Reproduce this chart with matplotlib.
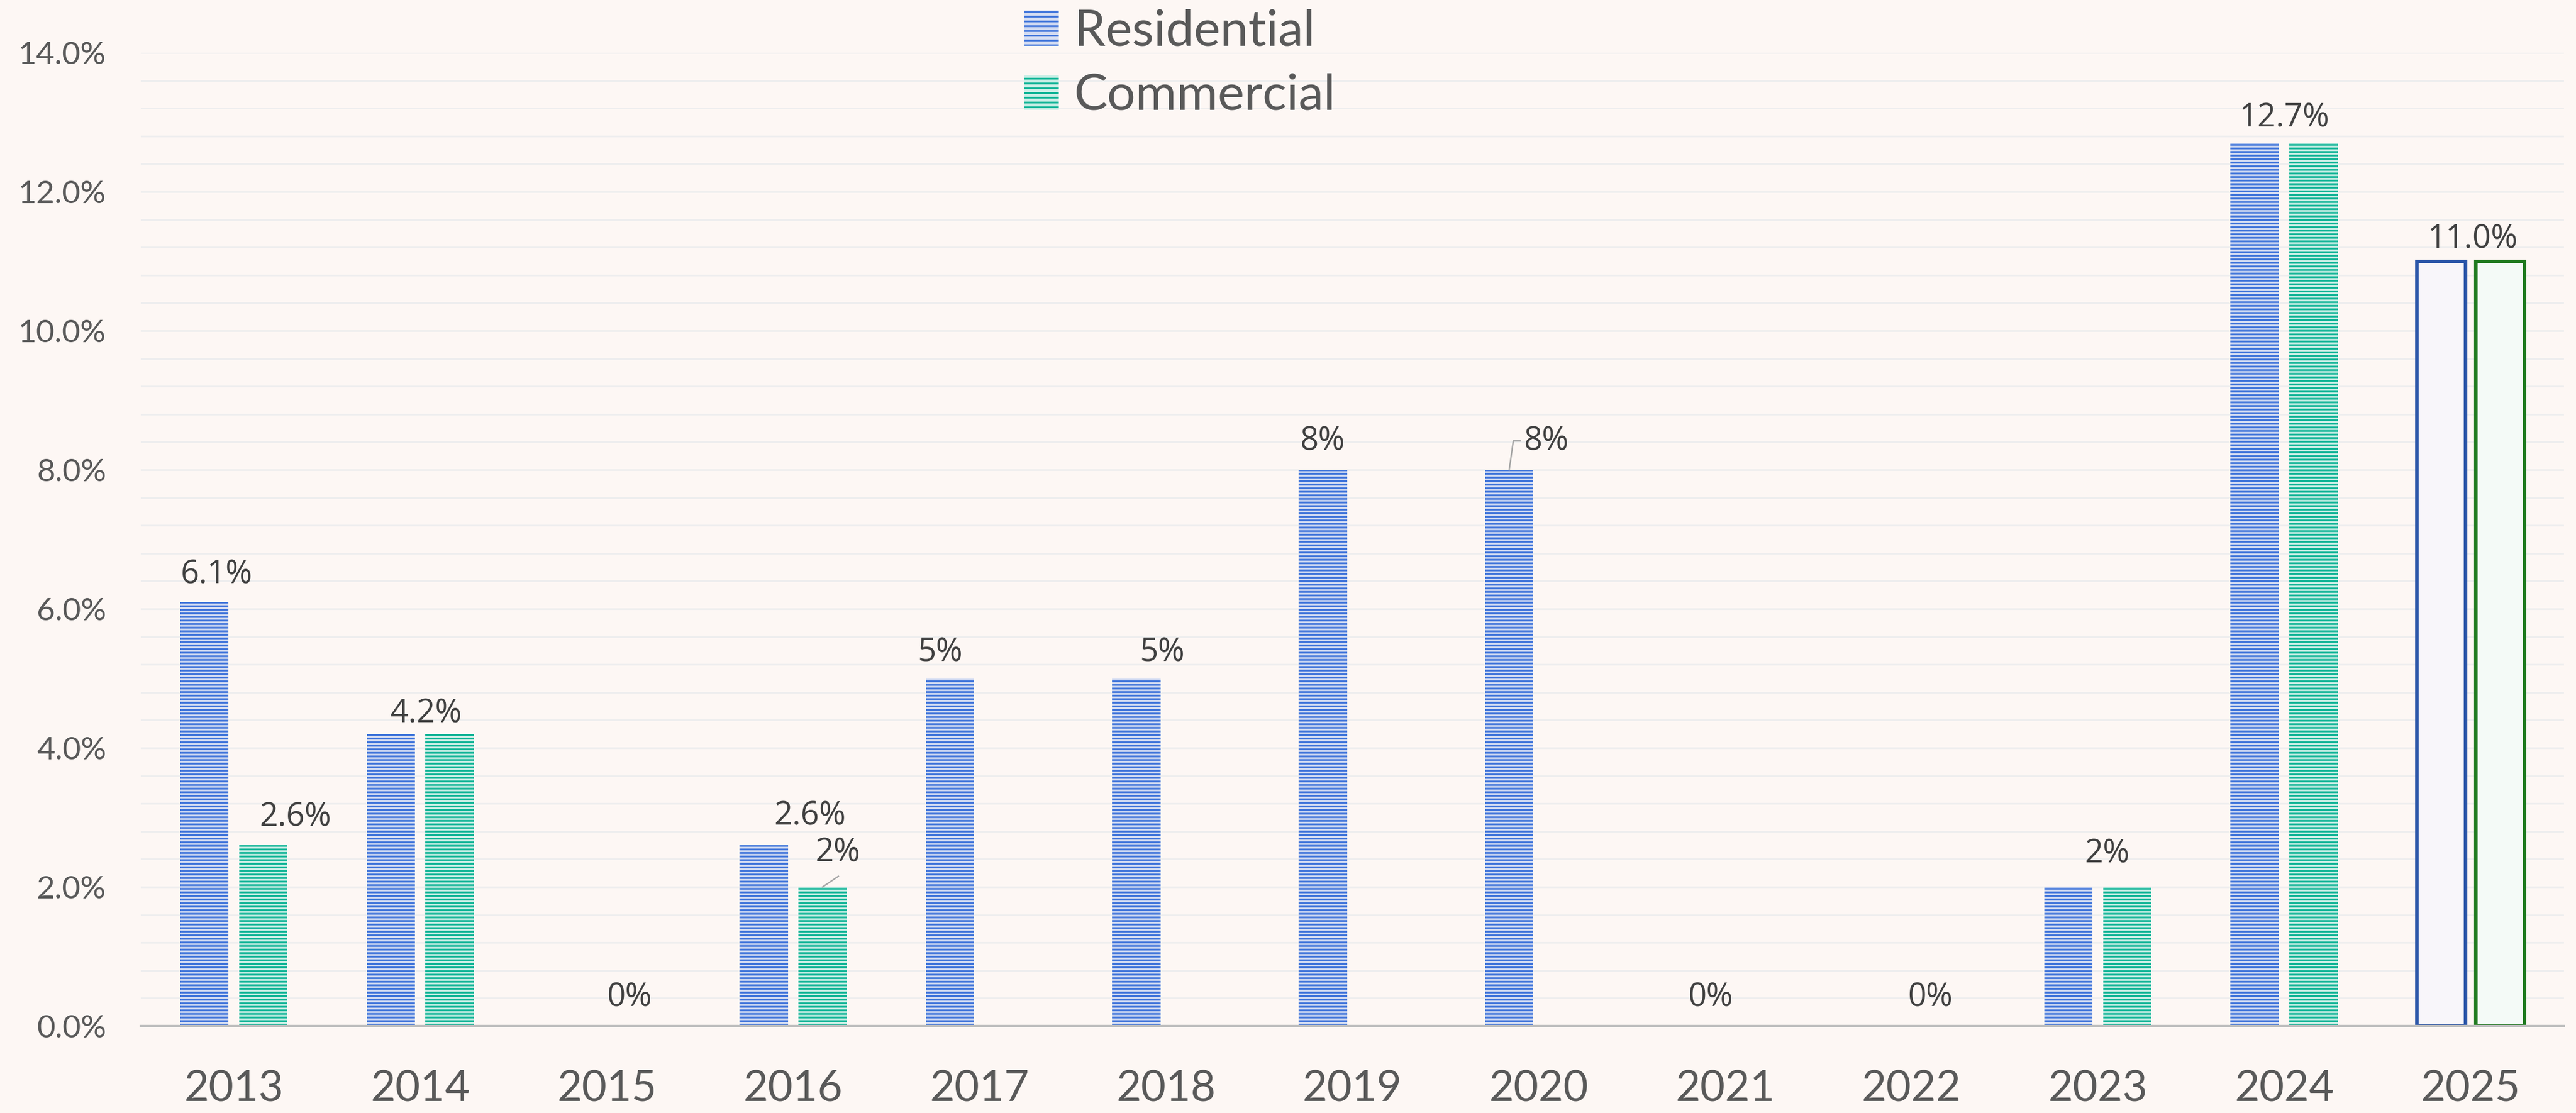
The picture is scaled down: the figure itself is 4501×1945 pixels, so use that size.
import matplotlib
matplotlib.use('Agg')
import matplotlib.pyplot as plt
import numpy as np
from matplotlib.patches import Patch

years = ['2013', '2014', '2015', '2016', '2017', '2018', '2019',
         '2020', '2021', '2022', '2023', '2024', '2025']
residential = [6.1, 4.2, 0, 2.6, 5, 5, 8, 8, 0, 0, 2, 12.7, 11.0]
commercial = [2.6, 4.2, 0, 2, 0, 0, 0, 0, 0, 0, 2, 12.7, 11.0]

# data labels as they appear on the chart
label_years = [0, 0, 1, 2, 3, 3, 4, 5, 6, 7, 8, 9, 10, 11, 12]
label_series = ['R', 'C', 'R', 'R', 'R', 'C', 'R', 'R', 'R', 'R', 'R', 'R', 'R', 'R', 'R']
label_texts = ['6.1%', '2.6%', '4.2%', '0%', '2.6%', '2%', '5%', '5%', '8%',
               '8%', '0%', '0%', '2%', '12.7%', '11.0%']

plt.rcParams['font.family'] = ['Lato', 'DejaVu Sans']
plt.rcParams['hatch.linewidth'] = 0.75

bg = '#FDF7F4'
blue_dark, blue_light = '#3F74DA', '#D3DCF2'
green_dark, green_light = '#10B496', '#CDEFE7'

fig = plt.figure(figsize=(4501/300, 1945/300), dpi=300, facecolor=bg)
ax = fig.add_axes([0.0546, 0.0781, 0.9407, 0.8746])
ax.set_facecolor(bg)

x = np.arange(len(years))
w = 0.26
off = 0.158
res = np.array(residential)
com = np.array(commercial)

# ordinary years: striped bars
ax.bar(x[:-1] - off, res[:-1], w, color=blue_light, edgecolor=blue_dark,
       hatch='--------', linewidth=0, zorder=3)
ax.bar(x[:-1] + off, com[:-1], w, color=green_light, edgecolor=green_dark,
       hatch='--------', linewidth=0, zorder=3)
# last year: outlined bars
ax.bar(x[-1] - off, res[-1], w, facecolor='#F8F6FA', edgecolor='#2A55A8',
       linewidth=1.5, zorder=3)
ax.bar(x[-1] + off, com[-1], w, facecolor='#F4FAF7', edgecolor='#1F7A1F',
       linewidth=1.5, zorder=3)

# label placement: (dx from category centre, dy above bar top)
label_offsets = [(-0.092, 0.39), (0.33, 0.40), (0.03, 0.29), (0.12, 0.40),
                 (0.09, 0.41), (0.24, 0.49), (-0.21, 0.37), (-0.02, 0.37),
                 (-0.16, 0.40), (0.04, 0.40), (-0.08, 0.40), (0.10, 0.40),
                 (0.05, 0.47), (0.0, 0.35), (0.01, 0.31)]
for yi, s, t, (dx, dy) in zip(label_years, label_series, label_texts, label_offsets):
    v = res[yi] if s == 'R' else com[yi]
    ax.text(x[yi] + dx, v + dy, t, ha='center', va='center', fontsize=13.5,
            color='#404040', family=['Open Sans', 'DejaVu Sans'], zorder=4)

# leader lines
lc = '#A6A6A6'
ax.plot([x[3] + off, x[3] + off + 0.085], [com[3], com[3] + 0.154],
        color=lc, lw=0.6, zorder=4)
ax.plot([x[7] - off, x[7] - off + 0.022, x[7] - off + 0.058],
        [res[7], res[7] + 0.417, res[7] + 0.417], color=lc, lw=0.6, zorder=4)

ax.set_xlim(-0.5, len(years) - 0.5)
ax.set_ylim(0, 14)
ax.set_xticks(x)
ax.set_xticklabels(years)
ax.set_yticks(np.arange(0, 14.01, 2))
ax.set_yticks(np.arange(0, 14.01, 0.4), minor=True)
ax.set_yticklabels([f'{v:.1f}%' for v in np.arange(0, 14.01, 2)])
ax.tick_params(axis='x', length=0, pad=18, labelsize=18, colors='#595959')
ax.tick_params(axis='y', which='both', length=0, pad=14.5, labelsize=13.3,
               colors='#595959')
ax.grid(axis='y', which='both', color='#EEEEEE', lw=0.7, zorder=0)
ax.set_axisbelow(True)
for sp in ['top', 'right', 'left']:
    ax.spines[sp].set_visible(False)
ax.spines['bottom'].set_color('#BFBFBF')
ax.spines['bottom'].set_linewidth(1.0)
ax.spines['bottom'].set_zorder(5)

handles = [Patch(facecolor=blue_light, edgecolor=blue_dark, hatch='------', linewidth=0),
           Patch(facecolor=green_light, edgecolor=green_dark, hatch='------', linewidth=0)]
fig.legend(handles, ['Residential', 'Commercial'], loc='upper left',
           bbox_to_anchor=(0.3975, 0.992), frameon=False, fontsize=21,
           labelcolor='#595959', handlelength=0.7, handleheight=0.7,
           handletextpad=0.3, labelspacing=0.38, borderpad=0, borderaxespad=0)

fig.savefig('out.png', dpi=300, facecolor=bg)
